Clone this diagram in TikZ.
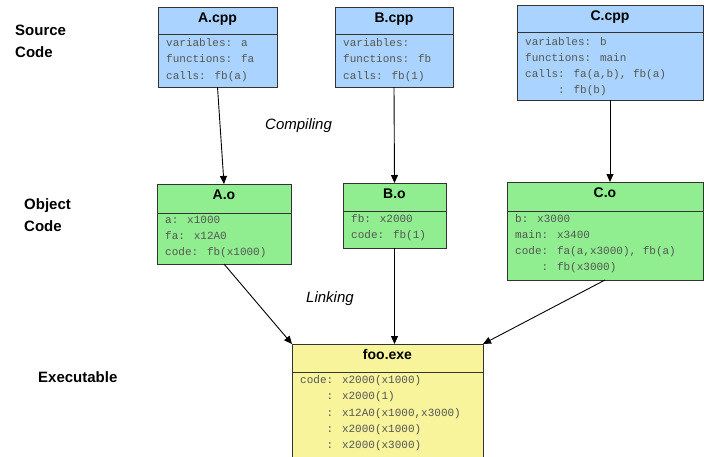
\documentclass[tikz,border=0pt]{standalone}
\usepackage{fontspec}
\setmainfont{Liberation Sans}
\newfontfamily\monof{Liberation Mono}
\usetikzlibrary{arrows.meta}
\definecolor{srcblue}{HTML}{AAD4FF}
\definecolor{objgreen}{HTML}{90EE90}
\definecolor{exeyellow}{HTML}{F8F49C}
\definecolor{codegray}{HTML}{555555}
\definecolor{edgecol}{HTML}{333333}
\newcommand\ind[1]{\hphantom{#1}}
\newcommand\fileunit[8]{%
  \node[filebox, fill=#7, minimum width={(#4-#2)*1pt}, minimum height={(#5-#3)*1pt}] (#1) at (#2,#3) {};
  \draw[divline] (#1.west |- 0,#6) -- (#1.east |- 0,#6);
  \node[titletext] (#1-t) at ({(#2+#4)/2},{#3+15.5}) {#8};
}
\tikzset{
  filebox/.style={draw=edgecol, line width=1pt, inner sep=0pt, outer sep=0pt, anchor=north west},
  divline/.style={draw=edgecol, line width=1pt},
  titletext/.style={font=\fontsize{14}{16}\selectfont\bfseries, anchor=base, inner sep=0pt},
  bodytext/.style={font=\monof\fontsize{11}{16.3}\selectfont, text=codegray, anchor=base west, inner sep=0pt},
  lbl/.style={font=\fontsize{15}{22.5}\selectfont\bfseries, anchor=base west, inner sep=0pt},
  phase/.style={font=\fontsize{15}{18}\selectfont\itshape, anchor=base west, inner sep=0pt},
  flow/.style={draw=black, line width=0.9pt, -{Triangle[length=8pt,width=7pt]}},
}
\begin{document}
\begin{tikzpicture}[x=1pt,y=-1pt]
\useasboundingbox (0,0) rectangle (704,456);
\fill[white] (0,0) rectangle (704,456);

% side labels
\node[lbl] (lsrc) at (15,35) {\begin{tabular}[t]{@{}l@{}}Source\\Code\end{tabular}};
\node[lbl] (lobj) at (24,209) {\begin{tabular}[t]{@{}l@{}}Object\\Code\end{tabular}};
\node[lbl] (lexe) at (38,382) {Executable};

% phase labels
\node[phase] (pcomp) at (265,129.5) {Compiling};
\node[phase] (plink) at (306,302) {Linking};

% source files
\fileunit{acpp}{158}{7}{277}{87}{34}{srcblue}{A.cpp}
\node[bodytext] (acpp-b) at (166,46.5) {\begin{tabular}[t]{@{}l@{}}variables: a\\functions: fa\\calls: fb(a)\end{tabular}};

\fileunit{bcpp}{335}{7}{453}{87}{34}{srcblue}{B.cpp}
\node[bodytext] (bcpp-b) at (343,46.5) {\begin{tabular}[t]{@{}l@{}}variables:\\functions: fb\\calls: fb(1)\end{tabular}};

\fileunit{ccpp}{517}{5}{703}{100}{32}{srcblue}{C.cpp}
\node[bodytext] (ccpp-b) at (525,45) {\begin{tabular}[t]{@{}l@{}}variables: b\\functions: main\\calls: fa(a,b), fb(a)\\\ind{00000}: fb(b)\end{tabular}};

% object files
\fileunit{ao}{157}{184}{291}{264}{213}{objgreen}{A.o}
\node[bodytext] (ao-b) at (165,223) {\begin{tabular}[t]{@{}l@{}}a: x1000\\fa: x12A0\\code: fb(x1000)\end{tabular}};

\fileunit{bo}{343}{183}{446}{248}{211}{objgreen}{B.o}
\node[bodytext] (bo-b) at (351,222) {\begin{tabular}[t]{@{}l@{}}fb: x2000\\code: fb(1)\end{tabular}};

\fileunit{co}{507}{182}{703}{280}{211}{objgreen}{C.o}
\node[bodytext] (co-b) at (515,222) {\begin{tabular}[t]{@{}l@{}}b: x3000\\main: x3400\\code: fa(a,x3000), fb(a)\\\ind{0000}: fb(x3000)\end{tabular}};

% executable
\fileunit{foo}{292}{344}{483}{462}{372}{exeyellow}{foo.exe}
\node[bodytext] (foo-b) at (300,383.5) {\begin{tabular}[t]{@{}l@{}}code: x2000(x1000)\\\ind{0000}: x2000(1)\\\ind{0000}: x12A0(x1000,x3000)\\\ind{0000}: x2000(x1000)\\\ind{0000}: x2000(x3000)\end{tabular}};

% connectors
\draw[flow] (acpp.south) -- (ao.north);
\draw[flow] (bcpp.south) -- (bo.north);
\draw[flow] (ccpp.south) -- (ccpp.south |- co.north);
\draw[flow] (ao.south) -- (foo.north west);
\draw[flow] (bo.south) -- (bo.south |- foo.north);
\draw[flow] (co.south) -- (foo.north east);
\end{tikzpicture}
\end{document}
